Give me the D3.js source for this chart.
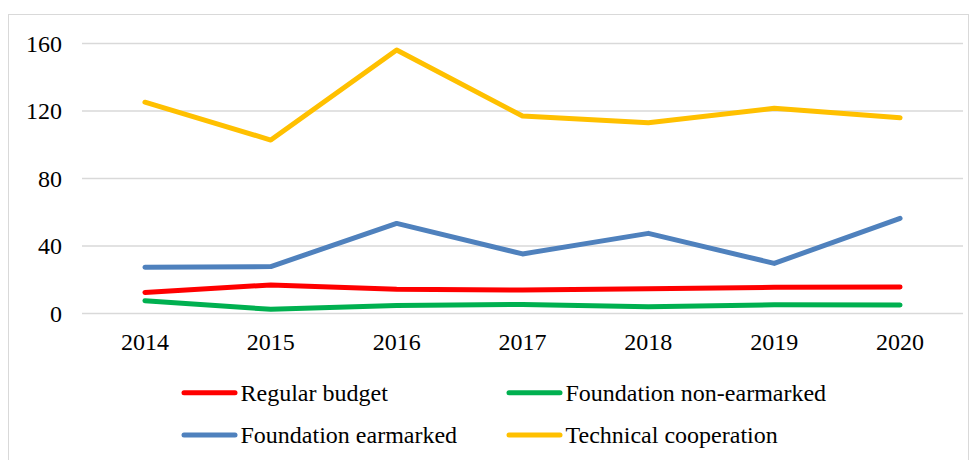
<!DOCTYPE html>
<html>
<head>
<meta charset="utf-8">
<script src="https://cdn.jsdelivr.net/npm/d3@7"></script>
<style>
  body { margin: 0; background: #fff; }
</style>
</head>
<body>
<div class="container"></div>
<script>
// Data
const years = ['2014', '2015', '2016', '2017', '2018', '2019', '2020'];
const regularBudget = [12.5, 16.9, 14.3, 13.9, 14.7, 15.5, 15.7];
const foundationNonEarmarked = [7.6, 2.5, 4.8, 5.4, 4.0, 5.2, 5.0];
const foundationEarmarked = [27.4, 27.8, 53.4, 35.3, 47.5, 29.7, 56.4];
const technicalCooperation = [125.2, 102.8, 156.1, 117.0, 113.1, 121.6, 116.0];
const yTicks = [0, 40, 80, 120, 160];

const series = [
    {name: 'Regular budget', values: regularBudget, color: '#FF0000'},
    {name: 'Foundation non-earmarked', values: foundationNonEarmarked, color: '#00B050'},
    {name: 'Foundation earmarked', values: foundationEarmarked, color: '#4F81BD'},
    {name: 'Technical cooperation', values: technicalCooperation, color: '#FFC000'}
];

const FONT = 'Liberation Serif';
const width = 976, height = 460;
const margin = {top: 43.5, right: 13, bottom: 146.5, left: 82};
const innerW = width - margin.left - margin.right,
    innerH = height - margin.top - margin.bottom;

let svg = d3.select('.container')
    .append('svg')
    .attr('width', width)
    .attr('height', height);

// chart frame
svg.append('rect')
    .attr('x', 8.5).attr('y', 14.5)
    .attr('width', 960).attr('height', 460)
    .attr('fill', 'none')
    .attr('stroke', '#D9D9D9')
    .attr('stroke-width', 1);

let g = svg.append('g')
    .attr('transform', 'translate(' + margin.left + ',' + margin.top + ')');

let x = d3.scaleBand().domain(years).range([0, innerW]);
let y = d3.scaleLinear().domain([0, 160]).range([innerH, 0]);

// gridlines
g.append('g')
    .selectAll('line')
    .data(yTicks)
    .enter().append('line')
    .attr('x1', 0).attr('x2', innerW)
    .attr('y1', d => y(d)).attr('y2', d => y(d))
    .attr('stroke', '#D9D9D9')
    .attr('stroke-width', 1.5);

// y axis
let yAxis = d3.axisLeft(y).tickValues(yTicks).tickSize(0).tickPadding(20);
g.append('g')
    .call(yAxis)
    .attr('font-family', FONT)
    .attr('font-size', 24)
    .call(s => s.select('.domain').remove())
    .selectAll('text')
    .attr('fill', '#000');

// x axis
let xAxis = d3.axisBottom(x).tickSize(0);
g.append('g')
    .attr('transform', 'translate(0,' + innerH + ')')
    .call(xAxis)
    .attr('font-family', FONT)
    .attr('font-size', 24)
    .call(s => s.select('.domain').remove())
    .selectAll('text')
    .attr('y', 36.5)
    .attr('dy', 0)
    .attr('fill', '#000');

// lines
let line = d3.line()
    .x((d, i) => x(years[i]) + x.bandwidth() / 2)
    .y(d => y(d));

g.selectAll('.series')
    .data(series)
    .enter().append('path')
    .attr('class', 'series')
    .attr('d', d => line(d.values))
    .attr('fill', 'none')
    .attr('stroke', d => d.color)
    .attr('stroke-width', 5)
    .attr('stroke-linecap', 'round')
    .attr('stroke-linejoin', 'round');

// legend
const legendX = [184, 509], legendY = [392.7, 435];
let legend = svg.append('g');
series.forEach((s, i) => {
    let lx = legendX[i % 2], ly = legendY[Math.floor(i / 2)];
    legend.append('line')
        .attr('x1', lx).attr('x2', lx + 51)
        .attr('y1', ly).attr('y2', ly)
        .attr('stroke', s.color)
        .attr('stroke-width', 5)
        .attr('stroke-linecap', 'round');
    legend.append('text')
        .attr('x', lx + 56.5).attr('y', ly + 8.2)
        .attr('font-family', FONT)
        .attr('font-size', 24)
        .attr('fill', '#000')
        .text(s.name);
});
</script>
</body>
</html>
